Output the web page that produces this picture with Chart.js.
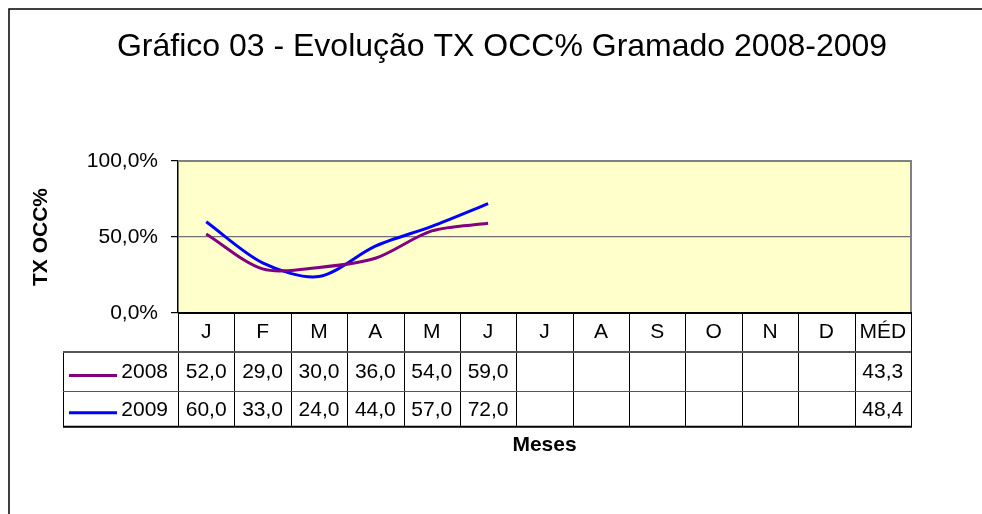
<!DOCTYPE html>
<html><head><meta charset="utf-8">
<script src="https://cdn.jsdelivr.net/npm/chart.js@4"></script>
<style>html,body{margin:0;padding:0;background:#fff}#wrap{width:982px;height:514px}</style>
</head><body><div id="wrap"><canvas id="c" width="982" height="514"></canvas></div>
<script>
// ---- data ----
const months = ['J','F','M','A','M','J','J','A','S','O','N','D','MÉD'];
const seriesNames = ['2008', '2009'];
const values2008 = [52.0, 29.0, 30.0, 36.0, 54.0, 59.0, null, null, null, null, null, null];
const values2009 = [60.0, 33.0, 24.0, 44.0, 57.0, 72.0, null, null, null, null, null, null];
const averages = [43.3, 48.4];
const yTickValues = [0, 50, 100];
const chartTitle = 'Gráfico 03 - Evolução TX OCC% Gramado 2008-2009';
const yTitle = 'TX OCC%';
const xTitle = 'Meses';

// ---- styles ----
const FONT = "'Liberation Sans', Arial, sans-serif";
const seriesColors = ['#800080', '#0000FF'];
const fmt = v => (v == null ? '' : v.toFixed(1).replace('.', ','));

const tablePlugin = {
  id: 'dataTable',
  beforeDraw(chart) {
    const { ctx, chartArea: a } = chart;
    ctx.save();
    ctx.fillStyle = '#fff';
    ctx.fillRect(0, 0, chart.width, chart.height);
    ctx.strokeStyle = '#000';
    ctx.lineWidth = 1.5;
    ctx.strokeRect(9, 9, 1400, 1400);
    ctx.fillStyle = '#FFFFCC';
    ctx.fillRect(a.left, a.top, a.right - a.left, a.bottom - a.top);
    // chart title
    ctx.fillStyle = '#000';
    ctx.font = '32px ' + FONT;
    ctx.textAlign = 'center';
    ctx.textBaseline = 'middle';
    ctx.fillText(chartTitle, 502, 47);
    ctx.restore();
  },
  afterDraw(chart) {
    const { ctx, chartArea: a, scales: { x } } = chart;
    const half = (x.getPixelForValue(1) - x.getPixelForValue(0)) / 2;
    const top = a.bottom;
    const r1 = top + 39, r2 = r1 + 39, r3 = r2 + 35.7;
    const tableLeft = 63;
    ctx.save();
    // plot border top/right
    ctx.strokeStyle = '#808080';
    ctx.lineWidth = 2;
    ctx.beginPath();
    ctx.moveTo(a.left, a.top); ctx.lineTo(a.right, a.top); ctx.lineTo(a.right, a.bottom);
    ctx.stroke();
    // vertical separators
    ctx.strokeStyle = '#000';
    ctx.lineWidth = 1;
    for (let i = 0; i <= months.length; i++) {
      const xp = Math.round(x.getPixelForValue(i) - half) + 0.5;
      ctx.beginPath(); ctx.moveTo(xp, top); ctx.lineTo(xp, r3); ctx.stroke();
    }
    ctx.beginPath(); ctx.moveTo(tableLeft + 0.5, r1); ctx.lineTo(tableLeft + 0.5, r3); ctx.stroke();
    // horizontal lines
    ctx.strokeStyle = '#555';
    ctx.lineWidth = 2;
    ctx.beginPath(); ctx.moveTo(tableLeft, r1); ctx.lineTo(a.right, r1); ctx.stroke();
    ctx.lineWidth = 1;
    ctx.beginPath(); ctx.moveTo(tableLeft, Math.round(r2) + 0.5); ctx.lineTo(a.right, Math.round(r2) + 0.5); ctx.stroke();
    ctx.strokeStyle = '#000';
    ctx.lineWidth = 2;
    ctx.beginPath(); ctx.moveTo(tableLeft, r3); ctx.lineTo(a.right + 1, r3); ctx.stroke();
    ctx.beginPath(); ctx.moveTo(a.left, top); ctx.lineTo(a.right + 1, top); ctx.stroke();
    // rows
    const rows = [[r1, r2], [r2, r3]];
    const series = [values2008, values2009];
    ctx.font = '21px ' + FONT;
    ctx.fillStyle = '#000';
    ctx.textBaseline = 'middle';
    rows.forEach(([y0, y1], s) => {
      const yc = (y0 + y1) / 2 + 1;
      // legend key
      ctx.strokeStyle = seriesColors[s];
      ctx.lineWidth = 3;
      ctx.beginPath(); ctx.moveTo(69, yc + 3); ctx.lineTo(117, yc + 3); ctx.stroke();
      ctx.textAlign = 'right';
      ctx.fillText(seriesNames[s], 168, yc);
      ctx.textAlign = 'center';
      series[s].forEach((v, i) => {
        if (v != null) ctx.fillText(fmt(v), x.getPixelForValue(i), yc);
      });
      ctx.fillText(fmt(averages[s]), x.getPixelForValue(months.length - 1), yc);
    });
    ctx.restore();
  }
};

new Chart(document.getElementById('c'), {
  type: 'line',
  data: {
    labels: months,
    datasets: [
      { label: seriesNames[0], data: values2008, borderColor: seriesColors[0], borderWidth: 3, pointRadius: 0, tension: 0.3, fill: false },
      { label: seriesNames[1], data: values2009, borderColor: seriesColors[1], borderWidth: 3, pointRadius: 0, tension: 0.3, fill: false }
    ]
  },
  options: {
    responsive: false,
    animation: false,
    layout: { padding: { left: 20, right: 71, top: 161, bottom: 0 } },
    plugins: {
      legend: { display: false },
      tooltip: { enabled: false },
      title: { display: false }
    },
    scales: {
      x: {
        type: 'category',
        offset: true,
        grid: { display: false, drawTicks: false },
        border: { display: false },
        ticks: { color: '#000', font: { family: FONT, size: 21 }, padding: 7, maxRotation: 0, autoSkip: false },
        title: { display: true, text: xTitle, color: '#000', font: { family: FONT, size: 21, weight: 'bold' }, padding: { top: 0, bottom: 56 } },
        afterFit: s => { s.height = 201; }
      },
      y: {
        min: 0, max: 100,
        afterBuildTicks: s => { s.ticks = yTickValues.map(v => ({ value: v })); },
        grid: {
          color: c => (c.tick && c.tick.value === 50 ? '#707070' : 'rgba(0,0,0,0)'),
          lineWidth: 1.2,
          tickColor: '#000', tickLength: 7, drawTicks: true
        },
        border: { display: true, color: '#000', width: 1.5 },
        ticks: { color: '#000', font: { family: FONT, size: 21 }, padding: 13, callback: v => fmt(v) + '%' },
        title: { display: true, text: yTitle, color: '#000', font: { family: FONT, size: 21, weight: 'bold' }, padding: { top: 9, bottom: 0 } },
        afterFit: s => { s.width = 158; }
      }
    }
  },
  plugins: [tablePlugin]
});
</script>
</body></html>
